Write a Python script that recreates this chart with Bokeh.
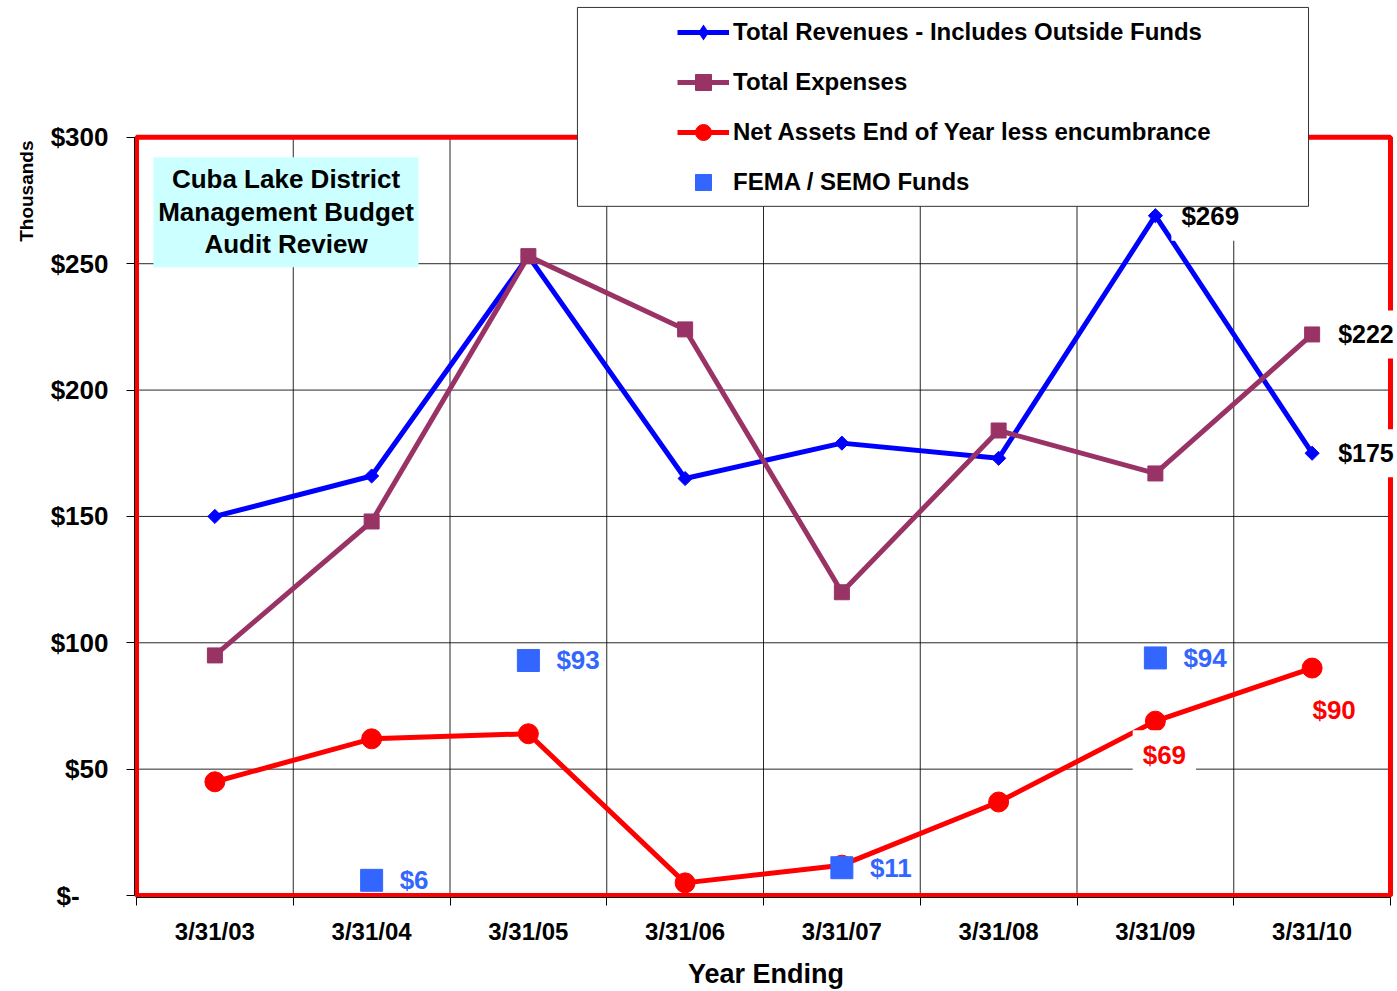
import math
from bokeh.plotting import figure
from bokeh.models import (Range1d, FixedTicker, Label, BoxAnnotation, Legend, LegendItem, Title)
from bokeh.embed import file_html
from bokeh.resources import INLINE

# ---------------- data ----------------
years = ["3/31/03", "3/31/04", "3/31/05", "3/31/06", "3/31/07", "3/31/08", "3/31/09", "3/31/10"]
revenues = [150, 166, 253, 165, 179, 173, 269, 175]
expenses = [95, 148, 253, 224, 120, 184, 167, 222]
net_assets = [45, 62, 64, 5, 12, 37, 69, 90]
fema_years = ["3/31/04", "3/31/05", "3/31/07", "3/31/09"]
fema_funds = [6, 93, 11, 94]
y_ticks = [0, 50, 100, 150, 200, 250, 300]
y_tick_labels = ["$-" + "\u00a0" * 4, "$50", "$100", "$150", "$200", "$250", "$300"]
title_lines = ["Cuba Lake District", "Management Budget", "Audit Review"]
series_names = ["Total Revenues - Includes Outside Funds", "Total Expenses",
                "Net Assets End of Year less encumbrance", "FEMA / SEMO Funds"]

FONT = "Liberation Sans"
C_REV, C_EXP, C_NET, C_FEMA = "#0000FF", "#993366", "#FF0000", "#3366FF"

n = len(years)
Y_MAX = y_ticks[-1]
xpos = [i + 0.5 for i in range(n)]
fema_x = [years.index(y) + 0.5 for y in fema_years]

# pixel geometry of the plotting area (the red box spans 0..n by 0..Y_MAX)
PX_X = 1254 / n        # px per category
PX_Y = 759 / Y_MAX     # px per thousand
W, H = 1397, 991
LEFT, BOTTOM = 134, 93
x_start = -2 / PX_X
x_end = (W - LEFT) / PX_X + x_start
y_start = -2 / PX_Y
y_end = (H - BOTTOM) / PX_Y + y_start

p = figure(width=W, height=H, x_range=Range1d(x_start, x_end), y_range=Range1d(y_start, y_end),
           output_backend="svg", toolbar_location=None,
           min_border_left=LEFT, min_border_right=0, min_border_top=0, min_border_bottom=BOTTOM)
p.background_fill_color = "white"
p.border_fill_color = "white"
p.outline_line_color = None
p.xgrid.visible = False
p.ygrid.visible = False

# grid lines (limited to the plotting box)
vx = list(range(1, n))
hy = y_ticks[1:-1]
gv = p.segment(x0=vx, y0=[0] * len(vx), x1=vx, y1=[Y_MAX] * len(vx),
               line_color="black", line_width=1, line_alpha=0.85)
gh = p.segment(x0=[0] * len(hy), y0=hy, x1=[n] * len(hy), y1=hy,
               line_color="black", line_width=1, line_alpha=0.85)
gv.level = "underlay"
gh.level = "underlay"

# red plot-area border
p.add_layout(BoxAnnotation(left=0, right=n, bottom=0, top=Y_MAX, fill_alpha=0,
                           line_color="#FF0000", line_alpha=1.0, line_width=5, level="underlay"))

# y axis
ya = p.yaxis[0]
ya.bounds = (0, Y_MAX)
ya.ticker = FixedTicker(ticks=y_ticks)
ya.major_label_overrides = {t: l for t, l in zip(y_ticks, y_tick_labels)}
ya.major_label_text_font = FONT
ya.major_label_text_font_style = "bold"
ya.major_label_text_font_size = "26px"
ya.major_label_text_color = "black"
ya.major_tick_out = 8
ya.major_tick_in = 0
ya.minor_tick_line_color = None
ya.major_label_standoff = 18
ya.axis_line_color = "black"

# "Thousands" near the top of the value axis
p.add_layout(Title(text="Thousands", align="right", offset=140, standoff=21,
                   text_font=FONT, text_font_style="bold", text_font_size="19px",
                   text_color="black"), "left")

# x axis
xa = p.xaxis[0]
xa.bounds = (0, n)
xa.ticker = FixedTicker(ticks=xpos, minor_ticks=list(range(0, n + 1)))
xa.major_label_overrides = {x: y for x, y in zip(xpos, years)}
xa.major_label_text_font = FONT
xa.major_label_text_font_style = "bold"
xa.major_label_text_font_size = "24px"
xa.major_label_text_color = "black"
xa.major_tick_out = 0
xa.major_tick_in = 0
xa.major_tick_line_color = None
xa.minor_tick_out = 8
xa.minor_tick_in = 0
xa.minor_tick_line_color = "black"
xa.major_label_standoff = 12
xa.axis_line_color = "black"
xa.axis_label = "Year Ending"
xa.axis_label_text_font = FONT
xa.axis_label_text_font_style = "bold"
xa.axis_label_text_font_size = "27px"
xa.axis_label_text_color = "black"
xa.axis_label_standoff = 11

# series
rev_line = p.line(xpos, revenues, line_color=C_REV, line_width=5)
rev_pts = p.scatter(xpos, revenues, marker="square", angle=math.pi / 4, size=10,
                    fill_color=C_REV, line_color=C_REV)
# diamond key for the legend (zero size on the chart itself)
rev_key = p.scatter(xpos, revenues, marker="diamond", size=0, fill_color=C_REV,
                    line_color=C_REV, line_alpha=0)
exp_line = p.line(xpos, expenses, line_color=C_EXP, line_width=5)
exp_pts = p.scatter(xpos, expenses, marker="square", size=15, fill_color=C_EXP, line_color=C_EXP)
net_line = p.line(xpos, net_assets, line_color=C_NET, line_width=5)
net_pts = p.scatter(xpos, net_assets, marker="circle", size=20, fill_color=C_NET, line_color=C_NET)
fema_pts = p.scatter(fema_x, fema_funds, marker="square", size=22, fill_color=C_FEMA, line_color=C_FEMA)

# title box
p.add_layout(BoxAnnotation(left=0.108, right=1.799, bottom=248.6, top=292.1,
                           fill_color="#CCFFFF", fill_alpha=1.0, line_color=None, level="annotation"))
for i, t in enumerate(title_lines):
    p.add_layout(Label(x=0.954, y=283.4 - i * 12.9, text=t, text_align="center", text_baseline="middle",
                       text_font=FONT, text_font_style="bold", text_font_size="26px", text_color="black"))


def add_label(x, y, text, color, dx, dy, align, bg, size="26px"):
    lab = Label(x=x, y=y, text=text, x_offset=dx, y_offset=dy, text_align=align,
                text_baseline="middle", text_color=color, text_font=FONT,
                text_font_style="bold", text_font_size=size)
    if bg:
        lab.background_fill_color = "white"
        lab.background_fill_alpha = 1.0
        lab.padding = 10
    p.add_layout(lab)


# data labels
for x, v in zip(fema_x, fema_funds):
    add_label(x, v, f"${v}", C_FEMA, 28, 0, "left", False)
add_label(xpos[6], revenues[6], f"${revenues[6]}", "black", 16, 0, "left", True)
add_label(xpos[7], revenues[7], f"${revenues[7]}", "black", 16, 0, "left", True, "25px")
add_label(xpos[7], expenses[7], f"${expenses[7]}", "black", 16, 0, "left", True, "25px")
add_label(xpos[6], net_assets[6], f"${net_assets[6]}", C_NET, 9, -34, "center", True)
add_label(xpos[7], net_assets[7], f"${net_assets[7]}", C_NET, 22, -42, "center", True)

# legend box + legend
p.add_layout(BoxAnnotation(left=2.813, right=7.477, bottom=272.7, top=351.4,
                           fill_color="white", fill_alpha=1.0, line_color="#333333",
                           line_alpha=1.0, line_width=1, level="annotation"))
legend = Legend(items=[
    LegendItem(label=series_names[0], renderers=[rev_line, rev_key]),
    LegendItem(label=series_names[1], renderers=[exp_line, exp_pts]),
    LegendItem(label=series_names[2], renderers=[net_line, net_pts]),
    LegendItem(label=series_names[3], renderers=[fema_pts]),
], location=(543, 695.5))
legend.glyph_width = 52
legend.glyph_height = 40
legend.label_height = 40
legend.spacing = 10
legend.padding = 0
legend.margin = 0
legend.label_standoff = 4
legend.background_fill_alpha = 0
legend.border_line_alpha = 0
legend.label_text_font = FONT
legend.label_text_font_style = "bold"
legend.label_text_font_size = "24px"
legend.label_text_color = "black"
p.add_layout(legend)

open("out.html", "w").write(file_html(p, INLINE))
